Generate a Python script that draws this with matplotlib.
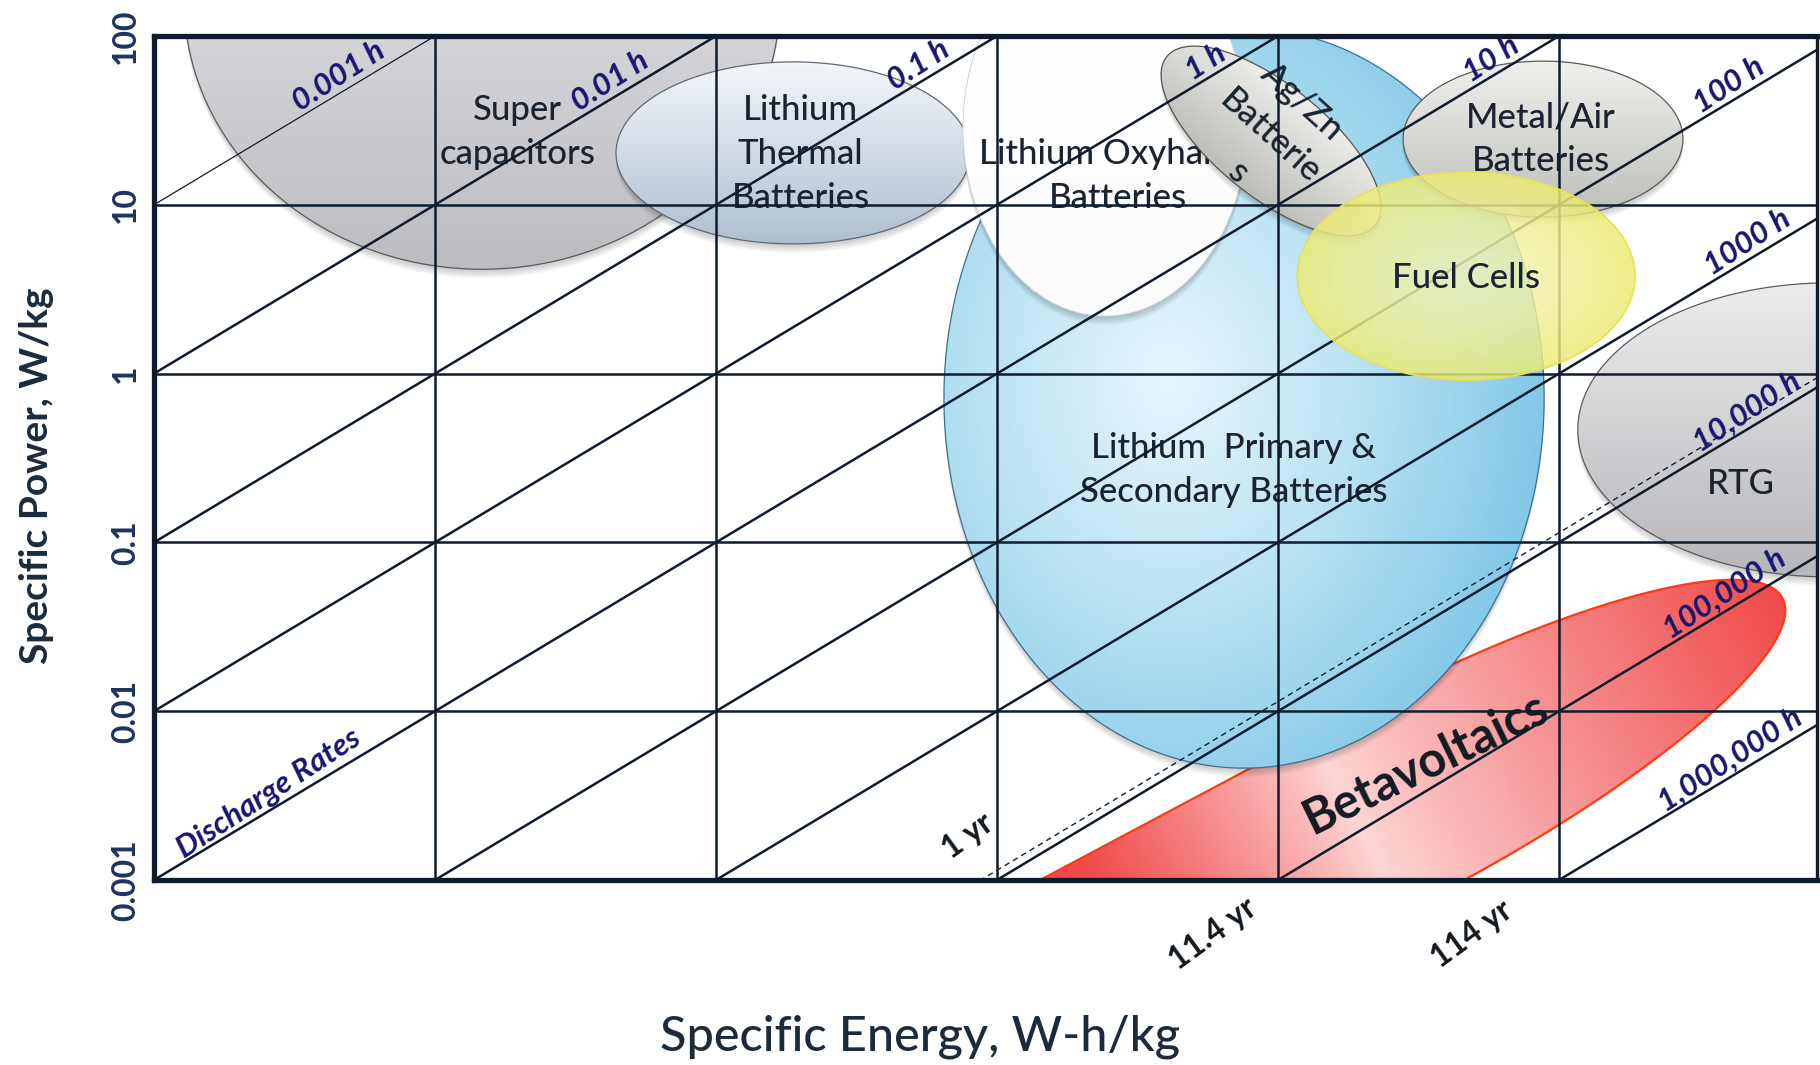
import numpy as np
import matplotlib
matplotlib.use("Agg")
import matplotlib.pyplot as plt
from matplotlib.patches import Polygon
from matplotlib.colors import to_rgb

plt.rcParams["font.family"] = ["Lato", "DejaVu Sans"]

# ---------------------------------------------------------------- data
energy_range = (0.01, 8280.0)            # W-h/kg
power_range = (0.001, 100.0)             # W/kg
power_ticks = [0.001, 0.01, 0.1, 1, 10, 100]
power_tick_labels = ["0.001", "0.01", "0.1", "1", "10", "100"]
energy_grid = [0.1, 1, 10, 100, 1000]
power_grid = [0.01, 0.1, 1, 10]

# lines of constant discharge time (hours)
discharge_hours = [0.001, 0.01, 0.1, 1, 10, 100, 1000, 10000, 100000, 1000000]
discharge_labels = ["0.001 h", "0.01 h", "0.1 h", "1 h", "10 h", "100 h",
                    "1000 h", "10,000 h", "100,000 h", "1,000,000 h"]
discharge_label_energy = [0.0485, 0.45, 5.6, 59.0, 615, 4300, 5000, 5000, 4150, 4350]
rates_label = "Discharge Rates"
rates_label_hours = 10
rates_label_energy = 0.0275

year_hours = 8760
year_label = "1 yr"
lifetime_hours = [100000, 1000000]
lifetime_labels = ["11.4 yr", "114 yr"]

# technology regions: centre (energy, power), half extent in decades,
# tilt (deg) and straight extension towards low energy (decades)
tech_names = ["RTG", "Betavoltaics", "Super capacitors", "Lithium Thermal",
              "Lithium Primary", "Lithium Oxyhalide", "Ag/Zn", "Metal/Air", "Fuel Cells"]
tech_energy = [9200, 278, 0.147, 1.88, 75.7, 24.2, 94.4, 877, 467]
tech_power = [0.464, 0.00298, 163, 20.3, 0.716, 28.5, 23.9, 24.5, 3.78]
tech_half_e = [0.897, 1.53, 1.06, 0.630, 1.068, 0.505, 0.477, 0.498, 0.601]
tech_half_p = [0.871, 0.59, 1.594, 0.539, 2.192, 1.114, 0.330, 0.462, 0.616]
tech_tilt = [0, 28, 0, 0, 0, 0, -39, 0, 0]
tech_band = [0, 1.8, 0, 0, 0, 0, 0, 0, 0]

# ---------------------------------------------------------------- figure
W, H = 1820, 1065
L, R, T, B = 154, 1817, 36, 880
fig = plt.figure(figsize=(W / 100, H / 100), dpi=100)
ax = fig.add_axes([L / W, 1 - B / H, (R - L) / W, (B - T) / H])
ax.set_xscale("log")
ax.set_yscale("log")
ax.set_xlim(*energy_range)
ax.set_ylim(*power_range)

SX = (R - L) / np.log10(energy_range[1] / energy_range[0])   # px per decade
SY = (B - T) / np.log10(power_range[1] / power_range[0])
ANG = np.degrees(np.arctan2(SY, SX))

INK = "#0e1c2d"
NAVY = "#17176e"


def lerp(c1, c2, t):
    a = np.array(to_rgb(c1))
    b = np.array(to_rgb(c2))
    t = np.clip(t, 0, 1)[..., None]
    return a * (1 - t) + b * t


def vertical(top, bottom):
    return lambda U, V: lerp(top, bottom, (1 - V) / 2)


def radial(inner, outer, u0=0.0, v0=0.0, gamma=1.0):
    def f(U, V):
        r = np.hypot(U - u0, V - v0) / (1 + np.hypot(u0, v0))
        return lerp(inner, outer, r ** gamma)
    return f


def beta_shade(U, V):
    c = -0.12
    t = np.where(U > c, (U - c) / (1 - c), (c - U) / 0.6)
    return lerp("#fdd6d6", "#f04a4a", t ** 0.9)


def outline(e, p, he, hp, tilt, band=0.0, n=600):
    t = np.linspace(0, 2 * np.pi, n)
    x = he * SX * np.cos(t) - np.where(np.cos(t) < 0, band * SX, 0.0)
    y = hp * SY * np.sin(t)
    r = np.radians(tilt)
    xr = x * np.cos(r) - y * np.sin(r)
    yr = x * np.sin(r) + y * np.cos(r)
    return np.log10(e) + xr / SX, np.log10(p) + yr / SY


def region(i, shade, z, edge, lw, alpha=1.0, shadow=True, n=260):
    e, p, he, hp, tilt = (tech_energy[i], tech_power[i], tech_half_e[i],
                          tech_half_p[i], tech_tilt[i])
    lx, ly = outline(e, p, he, hp, tilt, tech_band[i])
    gx = np.linspace(lx.min(), lx.max(), n + 1)
    gy = np.linspace(ly.min(), ly.max(), n + 1)
    CX, CY = np.meshgrid(0.5 * (gx[1:] + gx[:-1]), 0.5 * (gy[1:] + gy[:-1]))
    dx = (CX - np.log10(e)) * SX
    dy = (CY - np.log10(p)) * SY
    r = np.radians(tilt)
    U = (dx * np.cos(r) + dy * np.sin(r)) / (he * SX)
    V = (-dx * np.sin(r) + dy * np.cos(r)) / (hp * SY)
    rgba = np.dstack([shade(U, V), np.full(U.shape, alpha)])

    if shadow:
        for k in range(1, 7):
            sh = Polygon(np.c_[10 ** lx, 10 ** (ly - 1.5 * k / SY)], closed=True,
                         facecolor="black", edgecolor="none", alpha=0.035,
                         zorder=z - 0.02)
            ax.add_patch(sh)

    poly = Polygon(np.c_[10 ** lx, 10 ** ly], closed=True, transform=ax.transData,
                   facecolor="none", edgecolor=edge, lw=lw, zorder=z + 0.01)
    ax.add_patch(poly)
    mesh = ax.pcolormesh(10 ** gx, 10 ** gy, rgba, shading="flat", zorder=z,
                         antialiased=False, edgecolors="none")
    mesh.set_clip_path(poly)


# technology regions
region(0, vertical("#ececee", "#b6b6ba"), 0.8, "#5c5c5c", 0.9)
region(1, beta_shade, 0.9, "#ff3a12", 1.6, shadow=False)
region(2, vertical("#f5f5f7", "#bbbbc0"), 1.0, "#5a5a5e", 0.9)
region(3, vertical("#f3f6fa", "#afbecf"), 1.1, "#5f6a76", 0.9)
region(4, radial("#e2f5fc", "#82c7e7", u0=-0.25, v0=0.05, gamma=1.2), 1.2, "#3f6f8c", 0.9)
region(5, vertical("#ffffff", "#fbfbfb"), 1.3, "#cfd3d6", 0.7)
region(6, vertical("#eeeeec", "#bcbcb7"), 1.4, "#55554f", 0.9)
region(7, vertical("#efefed", "#bdbdb8"), 1.5, "#5a5a55", 0.9)
region(8, radial("#f4f4b8", "#ebeb70", gamma=1.4), 5.0, "#e2e25a", 1.2, alpha=0.82,
       shadow=False)

# region labels
TXT = "#1a2330"
label_kw = dict(ha="center", va="center", color=TXT, fontsize=25, fontweight="medium")
ax.text(0.197, 27, "Super\ncapacitors", zorder=3, linespacing=1.45, **label_kw)
ax.text(2.0, 20, "Lithium\nThermal\nBatteries", zorder=3, linespacing=1.45, **label_kw)
ax.text(27, 14.8, "Lithium Oxyhalide\nBatteries", zorder=1.35, linespacing=1.45,
        **label_kw)
ax.text(69.7, 0.268, "Lithium  Primary &\nSecondary Batteries", zorder=3,
        linespacing=1.45, **label_kw)
ax.text(94, 25.2, "Ag/Zn\nBatterie\ns", rotation=-42, rotation_mode="anchor",
        zorder=3, linespacing=1.6, **label_kw)
ax.text(863, 24.5, "Metal/Air\nBatteries", zorder=3, linespacing=1.45, **label_kw)
ax.text(4446, 0.222, "RTG", zorder=3, **label_kw)
ax.text(334, 0.00486, "Betavoltaics", rotation=26, rotation_mode="anchor", ha="center",
        va="center", color="#131a24", fontsize=35, fontweight="bold", zorder=3)
ax.text(467, 3.68, "Fuel Cells", zorder=6, **label_kw)

# grid
for e in energy_grid:
    ax.axvline(e, color=INK, lw=1.8, zorder=4)
for p in power_grid:
    ax.axhline(p, color=INK, lw=1.8, zorder=4)

# constant discharge-time lines
e_line = np.array(energy_range)
for h in discharge_hours:
    ax.plot(e_line, e_line / h, color=INK, lw=0.9 if h < 0.005 else 1.8, zorder=4,
            solid_capstyle="butt")
ax.plot(e_line, e_line / year_hours, color=INK, lw=1.0, ls=(0, (4, 3)), zorder=4)

lab_kw = dict(textcoords="offset points", rotation=ANG + 2, rotation_mode="anchor",
              ha="center", va="bottom", color=NAVY, fontsize=22.5,
              fontweight="bold", fontstyle="italic", zorder=7)
off = (-np.sin(np.radians(ANG)) * 1.0, np.cos(np.radians(ANG)) * 1.0)
for h, txt, e in zip(discharge_hours, discharge_labels, discharge_label_energy):
    ax.annotate(txt, (e, e / h), xytext=off, **lab_kw)
ax.annotate(rates_label, (rates_label_energy, rates_label_energy / rates_label_hours),
            xytext=off, **lab_kw)

yr_kw = dict(rotation=ANG + 5, rotation_mode="anchor", ha="center", va="center",
             color="#111820", fontsize=23, fontweight="bold", zorder=7)
ax.text(7.9, 0.00182, year_label, **yr_kw)
for h, txt, pos in zip(lifetime_hours, lifetime_labels, [(58.7, 0.00048), (490, 0.00048)]):
    ax.text(pos[0], pos[1], txt, clip_on=False, **yr_kw)

# axes styling
ax.set_xticks([])
ax.set_xticks([], minor=True)
ax.set_yticks(power_ticks)
ax.set_yticklabels(power_tick_labels)
ax.set_yticks([], minor=True)
ax.tick_params(axis="y", length=0, pad=10, labelsize=23, labelcolor="#1d3461")
for lbl in ax.get_yticklabels():
    lbl.set_rotation(90)
    lbl.set_va("center")
    lbl.set_fontweight("bold")
for side in ["left", "top", "bottom"]:
    ax.spines[side].set_linewidth(3.8)
    ax.spines[side].set_color(INK)
ax.spines["right"].set_linewidth(2.4)
ax.spines["right"].set_color(INK)
for s in ax.spines.values():
    s.set_zorder(8)

ax.set_ylabel("Specific Power, W/kg", fontsize=28, fontweight="bold", color="#1c2b3c")
ax.yaxis.set_label_coords(-0.060, 0.479)
ax.set_xlabel("Specific Energy, W-h/kg", fontsize=35, fontweight="medium",
              color="#1c2b3c", va="center")
ax.xaxis.set_label_coords(0.4606, -0.186)

ax.set_xlim(*energy_range)
ax.set_ylim(*power_range)
fig.savefig("out.png", dpi=100, facecolor="white")
